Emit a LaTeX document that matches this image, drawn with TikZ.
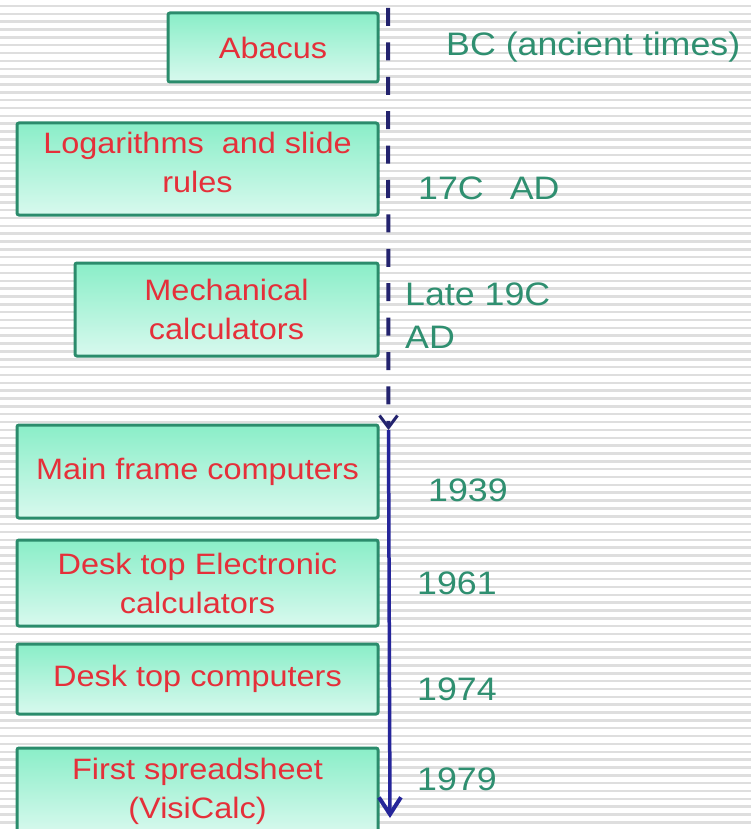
\documentclass[tikz,border=0pt]{standalone}
\usepackage{fontspec}
\setmainfont{Liberation Sans}[FakeStretch=1.1]
\usetikzlibrary{arrows.meta}
\definecolor{boxtop}{HTML}{8AEEC8}
\definecolor{boxbot}{HTML}{D8F9EE}
\definecolor{boxline}{HTML}{2B8C6C}
\definecolor{redtext}{HTML}{E5303A}
\definecolor{datetext}{HTML}{2F8F70}
\definecolor{stripe}{HTML}{DEDEDE}
\definecolor{dashcol}{HTML}{23236E}
\definecolor{solidcol}{HTML}{25259A}
\begin{document}
\begin{tikzpicture}[x=1pt,y=-1pt,
  eventbox/.style={draw=boxline, line width=3pt, rounded corners=2pt,
    top color=boxtop, bottom color=boxbot, text=redtext, align=center,
    font=\fontsize{29.5}{39}\selectfont, inner sep=0pt},
  datelabel/.style={text=datetext, anchor=base west, inner sep=0pt,
    font=\fontsize{32.5}{43}\selectfont, align=left},
  stripeline/.style={draw=stripe, line width=2.5pt},
  eraline/.style={draw=dashcol, line width=4pt, dash pattern=on 18pt off 16.4pt, dash phase=26.4pt},
  modernline/.style={draw=solidcol, line width=3.5pt}
]
\useasboundingbox (0,0) rectangle (751,829);
\clip (0,0) rectangle (751,829);
\fill[white] (0,0) rectangle (751,829);
\foreach \k in {0,...,105} {
  \draw[stripeline] (0,6+7.85*\k) -- (751,6+7.85*\k);
}
% boxes
\node[eventbox, minimum width=210pt, minimum height=69pt] (abacus) at (273,47.5) {Abacus};
\node[eventbox, minimum width=361pt, minimum height=92pt] (log) at (197.5,169)
  {Logarithms\ \ and slide\\rules\\[-25pt]\mbox{}};
\node[eventbox, minimum width=303pt, minimum height=93pt] (mech) at (226.5,309.5) {Mechanical\\calculators};
\node[eventbox, minimum width=361pt, minimum height=93pt] (main) at (197.5,471.5) {Main frame computers};
\node[eventbox, minimum width=361pt, minimum height=86pt] (deskel) at (197.5,583) {Desk top Electronic\\calculators};
\node[eventbox, minimum width=361pt, minimum height=70pt] (deskcomp) at (197.5,679) {Desk top computers};
\node[eventbox, minimum width=361pt, minimum height=86pt] (first) at (197.5,791) {First spreadsheet\\(VisiCalc)};
% timeline
\coordinate (ttop) at (388,0);
\coordinate (tmid) at (388.5,430);
\coordinate (tbot) at (390,818);
\draw[eraline, -{Straight Barb[length=12pt,width=18pt,line width=3pt]}] (ttop) -- (tmid);
\draw[modernline, -{Straight Barb[length=17pt,width=22pt,line width=4pt]}] (tmid) -- (tbot);
% dates
\node[datelabel] (bc) at (446,56) {BC (ancient times)};
\node[datelabel] (c17) at (418,200) {17C\hspace{26pt}AD};
\node[datelabel] (l19) at (405,348) {Late 19C\\AD};
\node[datelabel] (y1939) at (428,501) {1939};
\node[datelabel] (y1961) at (417,594) {1961};
\node[datelabel] (y1974) at (417,700) {1974};
\node[datelabel] (y1979) at (417,790) {1979};
\end{tikzpicture}
\end{document}
